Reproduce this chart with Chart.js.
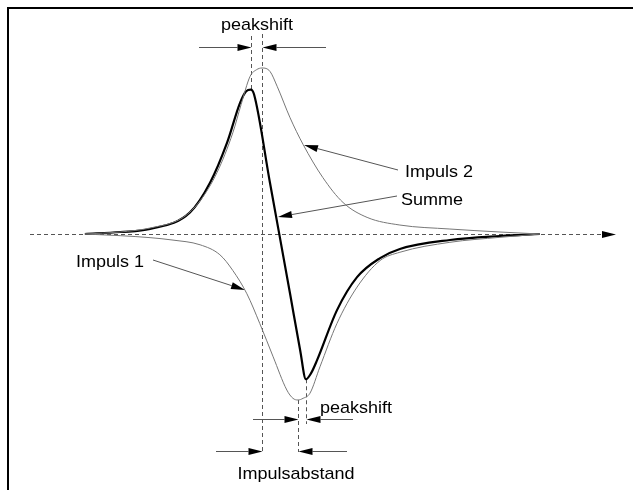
<!DOCTYPE html>
<html>
<head>
<meta charset="utf-8">
<script src="https://cdn.jsdelivr.net/npm/chart.js@4"></script>
<style>
  html, body { margin: 0; padding: 0; background: #fff; }
  #wrap { width: 633px; height: 490px; }
</style>
</head>
<body>
<div id="wrap"><canvas id="myChart" width="633" height="490"></canvas></div>
<script>
// time axis: 0 = peak of Impuls 2, 1 = peak of Impuls 1 (Impulsabstand)
// amplitude: normalised to the single pulse height
const imp2T = [-4.92, -3.94, -3.11, -2.19, -1.72, -1.25, -0.81, -0.58, -0.33, -0.15, 0, 0.22, 0.42, 0.78, 1.14, 1.69, 2.25, 2.92, 3.83, 5.22, 6.61, 7.72]
const imp2A = [0, 0.012, 0.036, 0.10, 0.20, 0.37, 0.61, 0.78, 0.95, 0.99, 1.0, 0.98, 0.89, 0.70, 0.54, 0.34, 0.19, 0.10, 0.054, 0.03, 0.012, 0]

const imp1T = [-4.92, -3.94, -3.11, -2.5, -1.72, -1.17, -0.81, -0.42, -0.06, 0.31, 0.69, 0.86, 1.0, 1.14, 1.33, 1.61, 2.08, 2.64, 3.28, 3.83, 5.22, 6.61, 7.72]
const imp1A = [0, -0.01, -0.022, -0.036, -0.065, -0.125, -0.22, -0.36, -0.54, -0.74, -0.94, -0.99, -1.0, -0.99, -0.96, -0.80, -0.54, -0.32, -0.16, -0.11, -0.05, -0.02, 0]

const sumT = [-4.92, -3.94, -3.11, -2.0, -1.44, -0.97, -0.61, -0.44, -0.31, -0.22, 0.22, 0.78, 1.06, 1.22, 1.36, 1.53, 2.08, 2.64, 3.28, 3.83, 5.22, 6.61, 7.72]
const sumA = [0, 0.012, 0.03, 0.13, 0.31, 0.55, 0.79, 0.86, 0.87, 0.84, 0.31, -0.36, -0.70, -0.875, -0.84, -0.76, -0.46, -0.26, -0.145, -0.09, -0.036, -0.012, 0]

const labels = ['Impuls 2', 'Summe', 'Impuls 1', 'peakshift', 'Impulsabstand']

const pts = (t, a) => t.map((v, i) => ({x: v, y: a[i]}))
const peakAt = (t, a, sign) => {
  let k = 0
  a.forEach((v, i) => { if (v * sign > a[k] * sign) k = i })
  return {x: t[k], y: a[k]}
}

function arrow(ctx, x1, y1, x2, y2) {
  // line from (x1,y1) with a filled head at (x2,y2)
  const ang = Math.atan2(y2 - y1, x2 - x1)
  const L = 14, W = 3.5
  ctx.strokeStyle = '#555'
  ctx.lineWidth = 1
  ctx.setLineDash([])
  ctx.beginPath()
  ctx.moveTo(x1, y1)
  ctx.lineTo(x2 - Math.cos(ang) * L, y2 - Math.sin(ang) * L)
  ctx.stroke()
  ctx.fillStyle = '#000'
  ctx.beginPath()
  ctx.moveTo(x2, y2)
  ctx.lineTo(x2 - Math.cos(ang) * L - Math.sin(ang) * W, y2 - Math.sin(ang) * L + Math.cos(ang) * W)
  ctx.lineTo(x2 - Math.cos(ang) * L + Math.sin(ang) * W, y2 - Math.sin(ang) * L - Math.cos(ang) * W)
  ctx.closePath()
  ctx.fill()
}

function dashed(ctx, x1, y1, x2, y2) {
  ctx.strokeStyle = '#555'
  ctx.lineWidth = 1
  ctx.setLineDash([4, 3])
  ctx.beginPath()
  ctx.moveTo(x1, y1)
  ctx.lineTo(x2, y2)
  ctx.stroke()
  ctx.setLineDash([])
}

function label(ctx, text, cx, by) {
  ctx.save()
  ctx.translate(cx, by)
  ctx.scale(1.06, 1)
  ctx.fillStyle = '#000'
  ctx.font = '17px "Liberation Sans", Arial, sans-serif'
  ctx.textAlign = 'center'
  ctx.textBaseline = 'alphabetic'
  ctx.fillText(text, 0, 0)
  ctx.restore()
}

const guides = {
  id: 'guides',
  beforeDatasetsDraw(chart) {
    const {ctx, scales: {x, y}} = chart
    const px = v => Math.round(x.getPixelForValue(v)) + 0.5
    const py = v => y.getPixelForValue(v)
    const p2 = peakAt(imp2T, imp2A, 1)
    const p1 = peakAt(imp1T, imp1A, -1)
    const ps = peakAt(sumT, sumA, 1)
    const ts = peakAt(sumT, sumA, -1)
    ctx.save()

    // frame
    ctx.strokeStyle = '#000'
    ctx.lineWidth = 2
    ctx.beginPath()
    ctx.moveTo(8, 490)
    ctx.lineTo(8, 8)
    ctx.lineTo(633, 8)
    ctx.stroke()

    // zero line with arrow
    const y0 = Math.round(py(0)) + 0.5
    dashed(ctx, 30, y0, 602, y0)
    arrow(ctx, 602, y0, 616, y0)

    // peak markers
    dashed(ctx, px(ps.x), 36, px(ps.x), py(ps.y))
    dashed(ctx, px(p2.x), 34, px(p2.x), 452)
    dashed(ctx, px(p1.x), py(p1.y), px(p1.x), 452)
    dashed(ctx, px(ts.x), py(ts.y), px(ts.x), 424)

    // peakshift at the top
    arrow(ctx, 199, 47.5, px(ps.x), 47.5)
    arrow(ctx, 326, 47.5, px(p2.x), 47.5)
    // peakshift at the bottom
    arrow(ctx, 253, 419.5, px(p1.x), 419.5)
    arrow(ctx, 353, 419.5, px(ts.x), 419.5)
    // Impulsabstand
    arrow(ctx, 216, 451.5, px(p2.x), 451.5)
    arrow(ctx, 347, 451.5, px(p1.x), 451.5)

    // label pointers
    arrow(ctx, 398, 170, 304, 145)
    arrow(ctx, 397, 196, 278, 217)
    arrow(ctx, 153, 260, 245, 290)

    label(ctx, labels[3], 257, 30)
    label(ctx, labels[0], 439, 177)
    label(ctx, labels[1], 432, 205)
    label(ctx, labels[2], 110, 267)
    label(ctx, labels[3], 356, 413)
    label(ctx, labels[4], 296, 479)
    ctx.restore()
  }
}

const data = {
  datasets: [
    {label: labels[0], data: pts(imp2T, imp2A), borderColor: '#777', borderWidth: 1},
    {label: labels[2], data: pts(imp1T, imp1A), borderColor: '#777', borderWidth: 1},
    {label: labels[1], data: pts(sumT, sumA), borderColor: '#000', borderWidth: 2.2}
  ]
}

const config = {
  type: 'line',
  data,
  options: {
    responsive: false,
    animation: false,
    layout: {padding: 0},
    elements: {
      point: {radius: 0},
      line: {cubicInterpolationMode: 'monotone', fill: false}
    },
    scales: {
      x: {type: 'linear', display: false, min: -262 / 36, max: 371 / 36},
      y: {type: 'linear', display: false, min: -256 / 166, max: 234 / 166}
    },
    plugins: {legend: {display: false}, tooltip: {enabled: false}}
  },
  plugins: [guides]
}

new Chart(document.getElementById('myChart'), config)
</script>
</body>
</html>
